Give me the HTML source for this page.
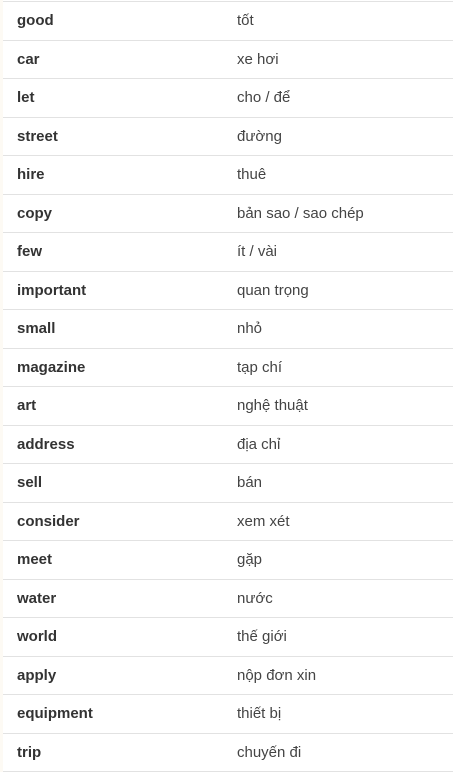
<!DOCTYPE html>
<html><head><meta charset="utf-8"><style>
html,body{margin:0;padding:0;background:#fff;width:453px;height:772px;overflow:hidden}
body{position:relative;font-family:"Liberation Sans",sans-serif;font-size:15px;color:#333}
.edge{position:absolute;left:0;top:0;width:3px;height:772px;background:#fdfaf4}
.l{position:absolute;left:3px;right:0;height:0;border-top:1px solid #e2e2e2}
.a{position:absolute;left:17px;font-weight:bold;color:#333}
.b{position:absolute;left:237px;color:#444}
</style></head><body>
<div class="edge"></div>
<div id="t"></div>
<script>
var d=[["good","tốt"],["car","xe hơi"],["let","cho / để"],["street","đường"],["hire","thuê"],["copy","bản sao / sao chép"],["few","ít / vài"],["important","quan trọng"],["small","nhỏ"],["magazine","tạp chí"],["art","nghệ thuật"],["address","địa chỉ"],["sell","bán"],["consider","xem xét"],["meet","gặp"],["water","nước"],["world","thế giới"],["apply","nộp đơn xin"],["equipment","thiết bị"],["trip","chuyến đi"]];
var h="";
for(var i=0;i<=20;i++){h+='<div class="l" style="top:'+Math.round(1+i*38.5)+'px"></div>';}
for(var i=0;i<20;i++){var y=Math.round(1+i*38.5+11);h+='<div class="a" style="top:'+y+'px">'+d[i][0]+'</div><div class="b" style="top:'+y+'px">'+d[i][1]+'</div>';}
document.getElementById("t").innerHTML=h;
</script>
</body></html>
